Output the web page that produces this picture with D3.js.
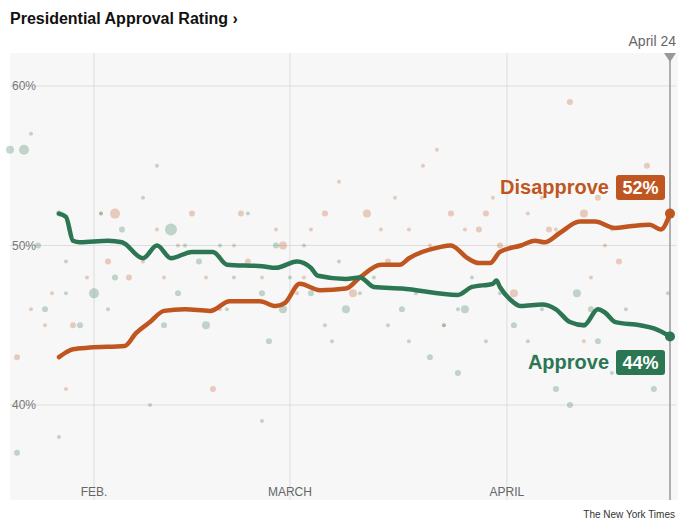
<!DOCTYPE html>
<html><head><meta charset="utf-8">
<script src="https://cdn.jsdelivr.net/npm/d3@7"></script>
<style>body{margin:0;background:#fff;font-family:"Liberation Sans",Arial,sans-serif}</style>
</head><body><svg id="c" width="680" height="524"></svg>
<script>
// day offsets from Feb 1
const approveDays = [-5,-4,-3,-2,2,4,7,9,11,14,17,19,24,26,29,31,32,36,38,40,44,52,54,57,57.5,58,59.5,61,64,66,68,70,72,73,74.5,78,80,82.3];
const approveVals = [52.0,51.8,50.3,50.2,50.3,50.2,49.2,50.0,49.2,49.6,49.6,48.8,48.7,48.6,49.0,48.6,48.1,47.9,48.0,47.4,47.3,46.9,47.4,47.6,47.8,47.4,46.6,46.2,46.3,46.0,45.2,45.0,46.0,45.8,45.2,45.0,44.8,44.3];
const disDays = [-5,-4,-3,-0.6,4.4,6,8,10,13,16.6,19.4,23.7,26,27.3,29.4,32.3,36,38,41,43.7,45,49.4,51,53.4,55,56.6,58,61,63,64.4,66.6,69.4,71.6,74.4,76.6,79.4,81,82.3];
const disVals = [43.0,43.3,43.5,43.6,43.7,44.5,45.2,45.9,46.0,45.9,46.5,46.5,46.2,46.4,47.6,47.2,47.3,48.0,48.8,48.8,49.2,49.9,50.0,49.2,48.9,48.9,49.6,50.0,50.3,50.2,50.8,51.5,51.5,51.1,51.2,51.3,51.0,52.0];
// polls: [dayOffset, value, size]
const approvePolls = [[-12,56,4],[-10,56,5],[-9,57,2],[-8,50,3],[-5,52,3],[-4,49,2],[-4,47,2],[-2,45,3],[0,47,5],[1,52,2],[2,46,2],[4,51,3],[7,53,2],[9,55,2],[11,51,6],[12,47,3],[13,50,2],[15,49,3],[16,45,4],[18,50,2],[20,48,2],[22,52,2],[24,47,3],[26,50,3],[27,46,4],[28,48,2],[30,50,2],[31,47,3],[33,45,2],[35,49,2],[36,46,4],[38,47,2],[40,48,2],[42,45,2],[44,46,3],[46,47,2],[48,43,3],[50,45,2],[52,46,2],[54,48,2],[56,44,2],[58,47,2],[60,45,3],[62,44,2],[64,46,2],[66,41,3],[68,40,3],[69,47,4],[70,45,3],[72,44,3],[74,42,2],[76,46,2],[78,43,2],[80,41,3],[-11,37,3],[-5,38,2],[8,40,2],[24,39,2],[52,42,3],[82,47,2],[-7,46,3],[3,48,3],[10,45,3],[19,46,2],[25,44,3],[34,44,2],[45,44,2],[53,46,4],[63,43,3],[71,46,3]];
const disPolls = [[-11,43,3],[-7,45,2],[-6,47,2],[-3,45,3],[-1,48,2],[1,52,2],[3,52,5],[5,48,3],[7,49,2],[10,48,2],[12,50,2],[14,52,3],[16,48,2],[18,46,2],[20,50,2],[22,49,3],[24,48,2],[26,51,2],[27,50,4],[29,47,2],[31,51,2],[33,52,3],[35,54,2],[37,47,4],[39,52,4],[41,51,2],[43,53,2],[45,51,2],[47,55,2],[49,56,2],[50,45,2],[51,52,3],[53,51,2],[55,51,3],[57,53,2],[58,50,3],[60,47,4],[62,52,2],[64,53,2],[66,51,2],[68,59,3],[70,52,4],[71,48,2],[72,53,3],[74,51,2],[75,49,3],[77,53,2],[79,55,3],[-4,41,2],[17,41,3],[70,44,2],[-9,46,2],[2,49,3],[9,51,2],[21,52,3],[30,48,2],[42,49,3],[48,50,2],[56,52,3],[65,51,3],[73,50,2]];
const yTicks = [40,50,60];
const monthTicks = [{d:0,l:"FEB."},{d:28,l:"MARCH"},{d:59,l:"APRIL"}];

const svg = d3.select("#c");
const feb1 = new Date(2025,1,1);
const dt = d => new Date(feb1.getTime()+d*86400000);
const x = d3.scaleTime().domain([dt(-12),dt(82.3)]).range([10,670]);
const y = d3.scaleLinear().domain([40,60]).range([405,86]);
const GREEN="#2d7654", ORANGE="#c0561f";

svg.append("text").attr("x",10).attr("y",24).attr("font-size",16).attr("font-weight","bold").attr("fill","#111").text("Presidential Approval Rating ›");
svg.append("rect").attr("x",10).attr("y",53).attr("width",668).attr("height",447).attr("fill","#f7f7f7");
yTicks.forEach(t=>{
  svg.append("line").attr("x1",10).attr("x2",676).attr("y1",y(t)).attr("y2",y(t)).attr("stroke","#ddd");
  svg.append("text").attr("x",12).attr("y",y(t)+4).attr("font-size",12).attr("fill","#777").text(t+"%");
});
monthTicks.forEach(m=>{
  svg.append("line").attr("x1",x(dt(m.d))).attr("x2",x(dt(m.d))).attr("y1",53).attr("y2",500).attr("stroke","#ddd");
  svg.append("text").attr("x",x(dt(m.d))).attr("y",496).attr("text-anchor","middle").attr("font-size",12).attr("fill","#666").text(m.l);
});
const drawPolls=(arr,col)=>svg.append("g").selectAll("circle").data(arr).join("circle")
  .attr("cx",d=>x(dt(d[0]))).attr("cy",d=>y(d[1])).attr("r",d=>d[2]).attr("fill",col).attr("opacity",0.28);
drawPolls(disPolls,ORANGE); drawPolls(approvePolls,GREEN);

svg.append("line").attr("x1",670).attr("x2",670).attr("y1",53).attr("y2",500).attr("stroke","#999").attr("stroke-width",1.5);
svg.append("path").attr("d","M664,53L676,53L670,62Z").attr("fill","#999");
svg.append("text").attr("x",676).attr("y",46).attr("text-anchor","end").attr("font-size",14).attr("fill","#666").text("April 24");

const line = d3.line().x(d=>x(dt(d[0]))).y(d=>y(d[1])).curve(d3.curveMonotoneX);
svg.append("path").attr("d",line(disDays.map((d,i)=>[d,disVals[i]]))).attr("fill","none").attr("stroke",ORANGE).attr("stroke-width",4.5).attr("stroke-linecap","round");
svg.append("path").attr("d",line(approveDays.map((d,i)=>[d,approveVals[i]]))).attr("fill","none").attr("stroke",GREEN).attr("stroke-width",4.5).attr("stroke-linecap","round");
svg.append("circle").attr("cx",670).attr("cy",y(disVals.at(-1))).attr("r",5).attr("fill",ORANGE);
svg.append("circle").attr("cx",670).attr("cy",y(approveVals.at(-1))).attr("r",5).attr("fill",GREEN);

function label(txt,val,col,yc){
  svg.append("text").attr("x",609).attr("y",yc+7).attr("text-anchor","end").attr("font-size",20).attr("font-weight","bold").attr("fill",col).text(txt);
  svg.append("rect").attr("x",616).attr("y",yc-12).attr("width",49).attr("height",25).attr("rx",3).attr("fill",col);
  svg.append("text").attr("x",640.5).attr("y",yc+7).attr("text-anchor","middle").attr("font-size",18).attr("font-weight","bold").attr("fill","#fff").text(val+"%");
}
label("Disapprove",52,ORANGE,187);
label("Approve",44,GREEN,362);
svg.append("text").attr("x",675).attr("y",518).attr("text-anchor","end").attr("font-size",10).attr("fill","#333").text("The New York Times");
</script></body></html>
